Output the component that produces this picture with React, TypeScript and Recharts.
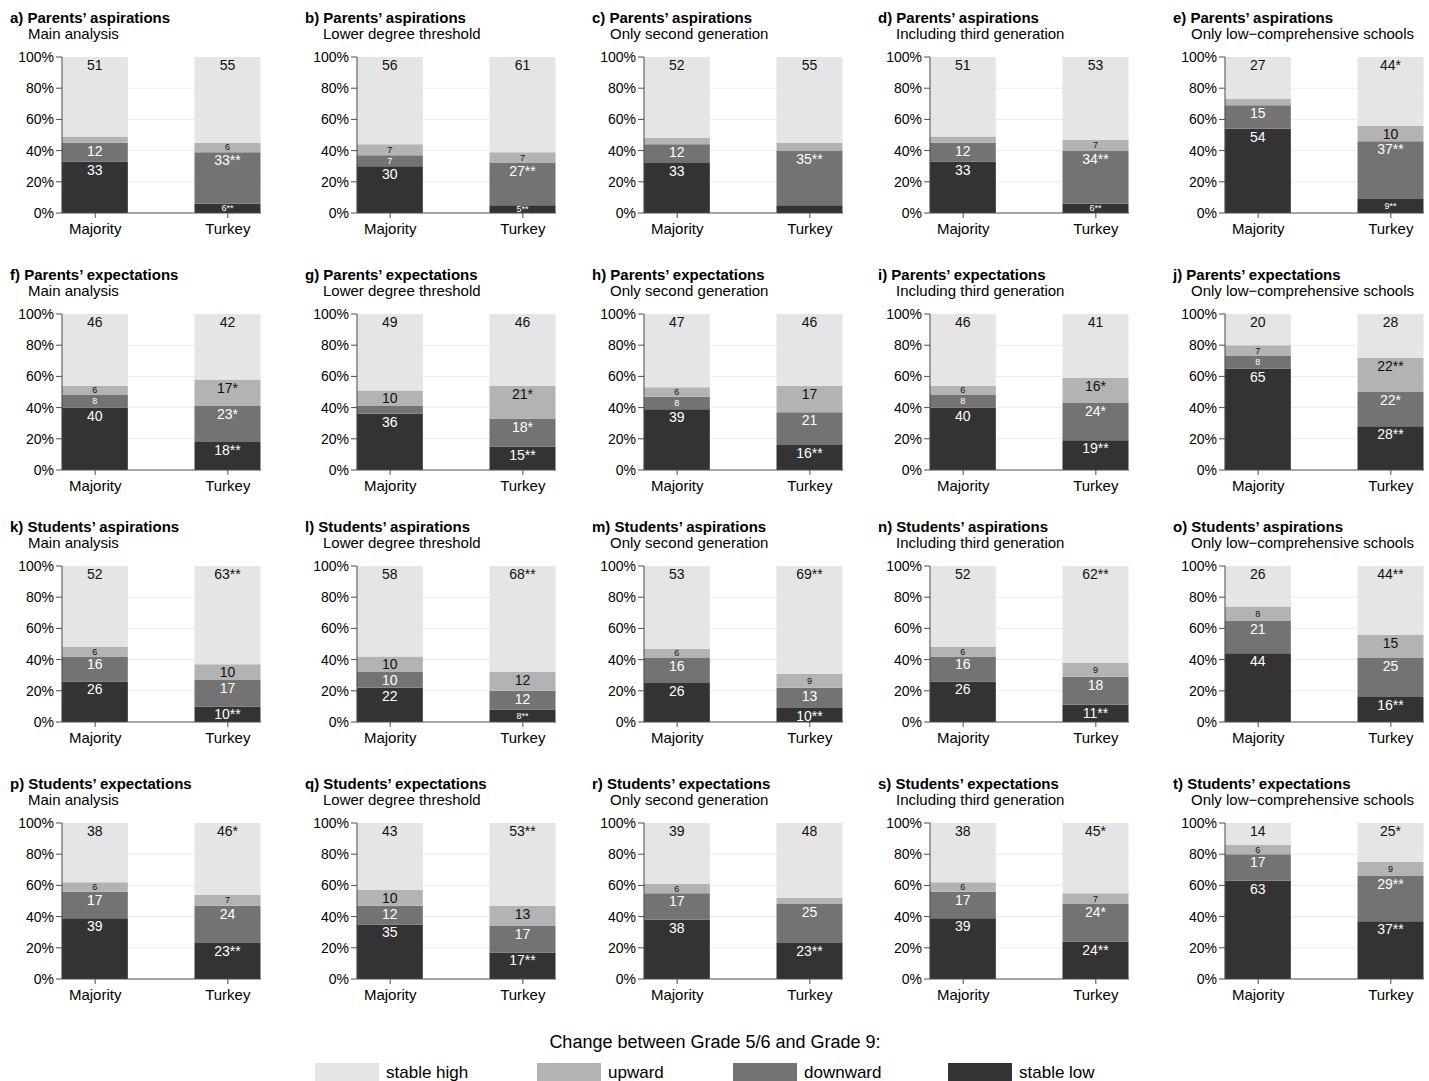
import { BarChart, Bar, XAxis, YAxis, CartesianGrid, LabelList } from "recharts";

const FONT = '"Liberation Sans", Arial, Helvetica, sans-serif';

// panel structure
const panelLetters = ["a", "b", "c", "d", "e", "f", "g", "h", "i", "j", "k", "l", "m", "n", "o", "p", "q", "r", "s", "t"];
const outcomes = ["Parents’ aspirations", "Parents’ expectations", "Students’ aspirations", "Students’ expectations"];
const specifications = [
  "Main analysis",
  "Lower degree threshold",
  "Only second generation",
  "Including third generation",
  "Only low−comprehensive schools",
];
const groups = ["Majority", "Turkey"];
const yTicks = [0, 20, 40, 60, 80, 100];

// segment shares in %, [Majority, Turkey], panels a..t
const stableLow = [
  [33, 6], [30, 5], [32, 5], [33, 6], [54, 9],
  [40, 18], [36, 15], [39, 16], [40, 19], [65, 28],
  [26, 10], [22, 8], [25, 9], [26, 11], [44, 16],
  [39, 23], [35, 17], [38, 23], [39, 24], [63, 37],
];
const downward = [
  [12, 33], [7, 27], [12, 35], [12, 34], [15, 37],
  [8, 23], [5, 18], [8, 21], [8, 24], [8, 22],
  [16, 17], [10, 12], [16, 13], [16, 18], [21, 25],
  [17, 24], [12, 17], [17, 25], [17, 24], [17, 29],
];
const upward = [
  [4, 6], [7, 7], [4, 5], [4, 7], [4, 10],
  [6, 17], [10, 21], [6, 17], [6, 16], [7, 22],
  [6, 10], [10, 12], [6, 9], [6, 9], [9, 15],
  [6, 7], [10, 13], [6, 4], [6, 7], [6, 9],
];
const stableHigh = [
  [51, 55], [56, 61], [52, 55], [51, 53], [27, 44],
  [46, 42], [49, 46], [47, 46], [46, 41], [20, 28],
  [52, 63], [58, 68], [53, 69], [52, 62], [26, 44],
  [38, 46], [43, 53], [39, 48], [38, 45], [14, 25],
];

// printed labels (with significance stars)
const stableLowLabels = [
  ["33", "6**"], ["30", "5**"], ["33", ""], ["33", "6**"], ["54", "9**"],
  ["40", "18**"], ["36", "15**"], ["39", "16**"], ["40", "19**"], ["65", "28**"],
  ["26", "10**"], ["22", "8**"], ["26", "10**"], ["26", "11**"], ["44", "16**"],
  ["39", "23**"], ["35", "17**"], ["38", "23**"], ["39", "24**"], ["63", "37**"],
];
const downwardLabels = [
  ["12", "33**"], ["7", "27**"], ["12", "35**"], ["12", "34**"], ["15", "37**"],
  ["8", "23*"], ["", "18*"], ["8", "21"], ["8", "24*"], ["8", "22*"],
  ["16", "17"], ["10", "12"], ["16", "13"], ["16", "18"], ["21", "25"],
  ["17", "24"], ["12", "17"], ["17", "25"], ["17", "24*"], ["17", "29**"],
];
const upwardLabels = [
  ["", "6"], ["7", "7"], ["", ""], ["", "7"], ["", "10"],
  ["6", "17*"], ["10", "21*"], ["6", "17"], ["6", "16*"], ["7", "22**"],
  ["6", "10"], ["10", "12"], ["6", "9"], ["6", "9"], ["8", "15"],
  ["6", "7"], ["10", "13"], ["6", ""], ["6", "7"], ["6", "9"],
];
const stableHighLabels = [
  ["51", "55"], ["56", "61"], ["52", "55"], ["51", "53"], ["27", "44*"],
  ["46", "42"], ["49", "46"], ["47", "46"], ["46", "41"], ["20", "28"],
  ["52", "63**"], ["58", "68**"], ["53", "69**"], ["52", "62**"], ["26", "44**"],
  ["38", "46*"], ["43", "53**"], ["39", "48"], ["38", "45*"], ["14", "25*"],
];

const series = [
  { key: "low", name: "stable low", color: "#333333", text: "#ffffff" },
  { key: "down", name: "downward", color: "#737373", text: "#ffffff" },
  { key: "up", name: "upward", color: "#b3b3b3", text: "#111111" },
  { key: "high", name: "stable high", color: "#e5e5e5", text: "#111111" },
];
const legendOrder = ["high", "up", "down", "low"];
const legendX = [315, 537, 733, 948];

// layout
const colX = [62, 357, 644, 930, 1225];
const rowTop = [57, 314, 566, 823];
const Y_W = 50;
const PLOT_W = 199;
const PLOT_H = 156;
const M_TOP = 8;
const X_H = 30;
const CHART_W = Y_W + PLOT_W + 2;
const CHART_H = M_TOP + PLOT_H + X_H;

function segmentLabel(color: string) {
  return (props: any) => {
    const vb = props.viewBox || {};
    const x = props.x ?? vb.x;
    const y = props.y ?? vb.y;
    const w = props.width ?? vb.width;
    const h = props.height ?? vb.height;
    const text = props.value;
    if (!text || x == null) return null;
    const top = Math.min(y, y + h);
    const segH = Math.abs(h);
    const small = parseInt(String(text), 10) < 10;
    const fs = small ? 9 : 14;
    // small numbers sit in the middle of their thin segment, others hang from the top
    const cy = small ? top + segH / 2 : top + 8;
    return (
      <text
        x={x + w / 2}
        y={cy}
        textAnchor="middle"
        dominantBaseline="central"
        fontSize={fs}
        fontFamily={FONT}
        fill={color}
      >
        {text}
      </text>
    );
  };
}

function Panel({ p }: { p: number }) {
  const row = Math.floor(p / 5);
  const col = p % 5;
  const data = groups.map((g, i) => ({
    group: g,
    pos: i * 2 + 0.5,
    low: stableLow[p][i],
    down: downward[p][i],
    up: upward[p][i],
    high: stableHigh[p][i],
    lowLabel: stableLowLabels[p][i],
    downLabel: downwardLabels[p][i],
    upLabel: upwardLabels[p][i],
    highLabel: stableHighLabels[p][i],
  }));
  return (
    <div style={{ position: "absolute", left: colX[col] - Y_W, top: rowTop[row] - M_TOP }}>
      <BarChart
        width={CHART_W}
        height={CHART_H}
        data={data}
        margin={{ top: M_TOP, right: 2, bottom: 0, left: 0 }}
      >
        <CartesianGrid vertical={false} stroke="#ebebeb" horizontalValues={[20, 40, 60, 80]} />
        <XAxis
          type="number"
          dataKey="pos"
          domain={[0, 3]}
          ticks={[0.5, 2.5]}
          tickFormatter={(v: number) => groups[Math.round((v - 0.5) / 2)]}
          height={X_H}
          tickSize={5}
          tickMargin={5}
          stroke="#4d4d4d"
          tick={{ fill: "#000", fontSize: 15, fontFamily: FONT }}
        />
        <YAxis
          domain={[0, 100]}
          ticks={yTicks}
          width={Y_W}
          tickFormatter={(v: number) => `${v}%`}
          tickSize={6}
          tickMargin={2}
          stroke="#4d4d4d"
          tick={{ fill: "#000", fontSize: 14, fontFamily: FONT }}
        />
        {series.map((s) => (
          <Bar key={s.key} dataKey={s.key} stackId="s" fill={s.color} barSize={66} isAnimationActive={false}>
            <LabelList dataKey={`${s.key}Label`} content={segmentLabel(s.text)} />
          </Bar>
        ))}
      </BarChart>
    </div>
  );
}

export default function App() {
  return (
    <div
      style={{
        position: "absolute",
        left: 0,
        top: 0,
        width: 1429,
        height: 1081,
        background: "#fff",
        fontFamily: FONT,
      }}
    >
      <svg width={1429} height={1081} style={{ position: "absolute", left: 0, top: 0 }}>
        {panelLetters.map((letter, p) => {
          const row = Math.floor(p / 5);
          const col = p % 5;
          return (
            <g key={letter} fontFamily={FONT} fill="#000">
              <text x={colX[col] - 52} y={rowTop[row] - 34} fontSize={15} fontWeight="bold">
                {`${letter}) ${outcomes[row]}`}
              </text>
              <text x={colX[col] - 34} y={rowTop[row] - 18} fontSize={15}>
                {specifications[col]}
              </text>
            </g>
          );
        })}
        <text x={715} y={1048} fontSize={18} textAnchor="middle" fontFamily={FONT} fill="#000">
          Change between Grade 5/6 and Grade 9:
        </text>
        {legendOrder.map((k, i) => {
          const s = series.find((d) => d.key === k)!;
          return (
            <g key={k}>
              <rect x={legendX[i]} y={1063} width={64} height={18} fill={s.color} />
              <text x={legendX[i] + 71} y={1078} fontSize={17} fontFamily={FONT} fill="#000">
                {s.name}
              </text>
            </g>
          );
        })}
      </svg>
      {panelLetters.map((letter, p) => (
        <Panel key={letter} p={p} />
      ))}
    </div>
  );
}
